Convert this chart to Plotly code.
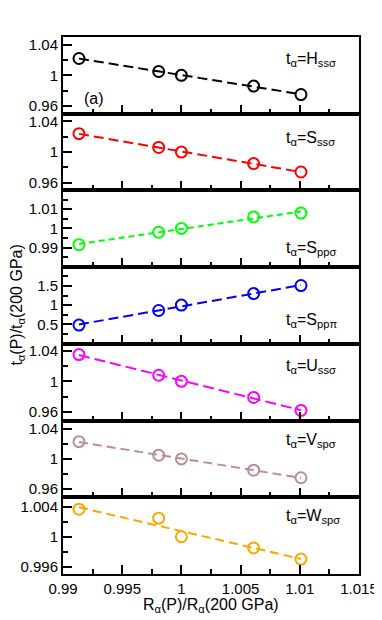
import numpy as np
import plotly.graph_objects as go
from plotly.subplots import make_subplots

# R_alpha(P)/R_alpha(200 GPa)
ratio_r = [0.99135, 0.99808, 1.0, 1.0061, 1.0101]

# t_alpha(P)/t_alpha(200 GPa) for each hopping
h_ss_sigma = [1.022, 1.005, 1.0, 0.986, 0.975]
s_ss_sigma = [1.024, 1.006, 1.0, 0.985, 0.974]
s_pp_sigma = [0.9915, 0.998, 1.0, 1.006, 1.008]
s_pp_pi = [0.48, 0.86, 1.0, 1.30, 1.51]
u_ss_sigma = [1.035, 1.008, 1.0, 0.979, 0.962]
v_sp_sigma = [1.023, 1.005, 1.0, 0.985, 0.975]
w_sp_sigma = [1.0037, 1.0025, 1.0, 0.9985, 0.9970]

labels = ["t<sub>α</sub>=H<sub>ssσ</sub>", "t<sub>α</sub>=S<sub>ssσ</sub>",
          "t<sub>α</sub>=S<sub>ppσ</sub>", "t<sub>α</sub>=S<sub>ppπ</sub>",
          "t<sub>α</sub>=U<sub>ssσ</sub>", "t<sub>α</sub>=V<sub>spσ</sub>",
          "t<sub>α</sub>=W<sub>spσ</sub>"]
xticks = [0.99, 0.995, 1.0, 1.005, 1.01, 1.015]

series = [h_ss_sigma, s_ss_sigma, s_pp_sigma, s_pp_pi, u_ss_sigma, v_sp_sigma, w_sp_sigma]
colors = ["black", "red", "#00ff00", "blue", "magenta", "#bc8f8f", "orange"]
dashes = ["10px,5px", "10px,5px", "6px,4px", "10px,5px", "11px,5px", "9px,5px", "9px,5px"]

# axis setup per panel: range, labelled ticks, minor step
yranges = [[0.95, 1.05], [0.95, 1.05], [0.9798, 1.0198], [-0.01, 1.99],
           [0.9488, 1.049], [0.949, 1.051], [0.995, 1.0053]]
yticks = [[0.96, 1, 1.04], [0.96, 1, 1.04], [0.99, 1, 1.01], [0.5, 1, 1.5],
          [0.96, 1, 1.04], [0.96, 1, 1.04], [0.996, 1, 1.004]]
yminor = [0.02, 0.02, 0.005, 0.25, 0.02, 0.02, 0.002]
ylabpos = [0.71, 0.68, 0.24, 0.30, 0.71, 0.74, 0.75]

font = "Liberation Sans, Arial, sans-serif"

fig = make_subplots(rows=7, cols=1, shared_xaxes=True, vertical_spacing=0)

for i, (vals, col) in enumerate(zip(series, colors)):
    row = i + 1
    k, b = np.polyfit(ratio_r, vals, 1)
    xs = np.array([ratio_r[0], ratio_r[-1]])
    fig.add_trace(go.Scatter(x=xs, y=k * xs + b, mode="lines",
                             line=dict(color=col, width=2, dash=dashes[i]),
                             showlegend=False), row=row, col=1)
    fig.add_trace(go.Scatter(x=ratio_r, y=vals, mode="markers",
                             marker=dict(symbol="circle-open", size=11, color=col,
                                         line=dict(width=2, color=col)),
                             showlegend=False), row=row, col=1)
    fig.update_yaxes(range=yranges[i], tickvals=yticks[i], ticks="inside", ticklen=9,
                     tickwidth=2, tickcolor="black", showline=True, linewidth=2,
                     linecolor="black", mirror=True, showgrid=False, zeroline=False,
                     automargin=False,
                     minor=dict(dtick=yminor[i], tick0=0, ticks="inside", ticklen=5,
                                tickwidth=2, tickcolor="black"),
                     tickfont=dict(family=font, size=15, color="black"),
                     row=row, col=1)
    fig.add_annotation(text=labels[i], xref="x domain" if row == 1 else "x%d domain" % row,
                       yref="y domain" if row == 1 else "y%d domain" % row,
                       x=0.745, y=ylabpos[i], xanchor="left", yanchor="middle",
                       showarrow=False, font=dict(family=font, size=16, color="black"))

fig.update_xaxes(range=[0.99, 1.015], tickvals=xticks, ticks="inside", ticklen=9,
                 tickwidth=2, tickcolor="black", showline=True, linewidth=2,
                 linecolor="black", mirror=True, showgrid=False, zeroline=False,
                 automargin=False,
                 minor=dict(dtick=0.0025, tick0=0.99, ticks="inside", ticklen=5,
                            tickwidth=2, tickcolor="black"),
                 tickfont=dict(family=font, size=15, color="black"))
fig.update_xaxes(tickformat="~g", row=7, col=1)

fig.add_annotation(text="(a)", xref="x domain", yref="y domain", x=0.065, y=0.2,
                   xanchor="left", yanchor="middle", showarrow=False,
                   font=dict(family=font, size=16, color="black"))
fig.add_annotation(text="t<sub>α</sub>(P)/t<sub>α</sub>(200 GPa)", xref="paper", yref="paper",
                   x=-0.155, y=0.5, xanchor="center", yanchor="middle", textangle=-90,
                   showarrow=False, font=dict(family=font, size=16, color="black"))
fig.add_annotation(text="R<sub>α</sub>(P)/R<sub>α</sub>(200 GPa)", xref="paper", yref="paper",
                   x=0.5, y=-0.058, xanchor="center", yanchor="middle", showarrow=False,
                   font=dict(family=font, size=16, color="black"))

# page body adds an 8px offset, so margins are trimmed to keep the frame in place
fig.update_layout(template="none", width=382, height=620,
                  margin=dict(l=55, r=31, t=29, b=54, autoexpand=False),
                  plot_bgcolor="white", paper_bgcolor="white", showlegend=False)

fig.write_html("out.html")
